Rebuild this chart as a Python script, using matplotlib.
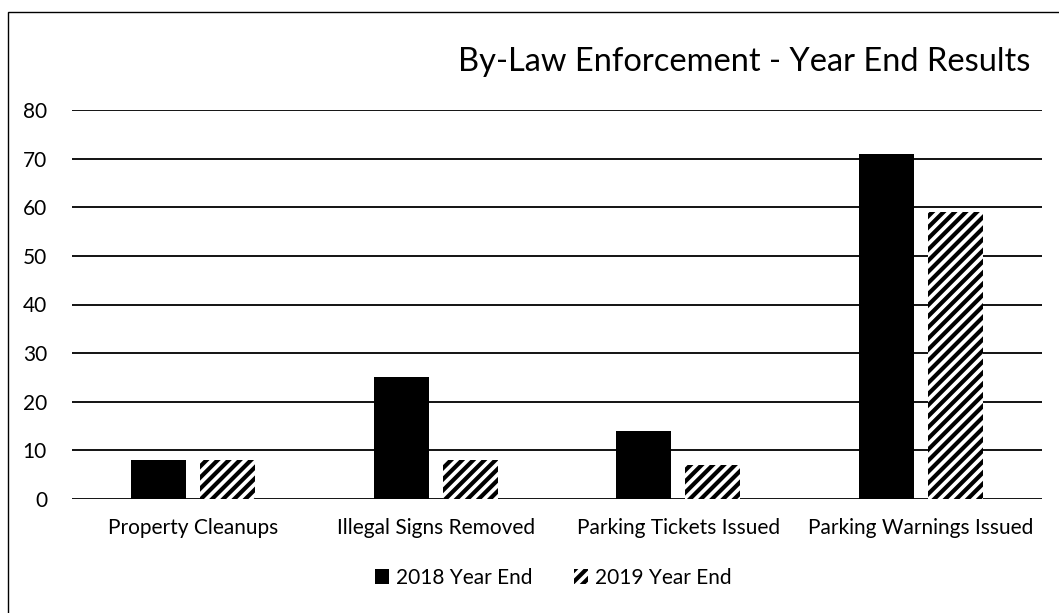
import numpy as np
import matplotlib.pyplot as plt
from matplotlib.patches import Rectangle

categories = ["Property Cleanups", "Illegal Signs Removed",
              "Parking Tickets Issued", "Parking Warnings Issued"]
year_2018 = [8, 25, 14, 71]
year_2019 = [8, 8, 7, 59]
yticks = [0, 10, 20, 30, 40, 50, 60, 70, 80]

plt.rcParams['font.family'] = ['Lato', 'DejaVu Sans']
plt.rcParams['hatch.linewidth'] = 3.0

W, H = 1059, 613
fig = plt.figure(figsize=(W / 100, H / 100), dpi=100)
ax = fig.add_axes([72 / W, 1 - 499 / H, (1042 - 72) / W, (499 - 110) / H])

x = np.arange(len(categories))
bw = 0.227
off = 0.142
ax.bar(x - off, year_2018, bw, color='black', label='2018 Year End', zorder=3)
ax.bar(x + off, year_2019, bw, facecolor='white', edgecolor='black',
       linewidth=0, hatch='///', label='2019 Year End', zorder=3)

ax.set_xlim(-0.5, len(categories) - 0.5)
ax.set_ylim(0, 80)
ax.set_yticks(yticks)
ax.set_xticks(x)
ax.set_xticklabels(categories, fontsize=15)
ax.tick_params(axis='y', labelsize=15, length=0, pad=18)
ax.tick_params(axis='x', length=0, pad=14)
ax.yaxis.grid(True, color='black', linewidth=1.3, zorder=0)
for s in ax.spines.values():
    s.set_visible(False)

fig.text(1030 / W, 1 - 62 / H, "By-Law Enforcement - Year End Results",
         fontsize=23.5, ha='right', va='center')

ax.legend(loc='center', bbox_to_anchor=(553 / W, 1 - 578 / H),
          bbox_transform=fig.transFigure, ncol=2, frameon=False,
          fontsize=15, handlelength=0.7, handleheight=0.7,
          columnspacing=2.0, handletextpad=0.3)

fig.patches.append(Rectangle((8 / W, -0.1), 1.2, 1.1 - 12 / H,
                             transform=fig.transFigure, fill=False,
                             edgecolor='black', linewidth=1.0))

fig.savefig("out.png", dpi=100)
